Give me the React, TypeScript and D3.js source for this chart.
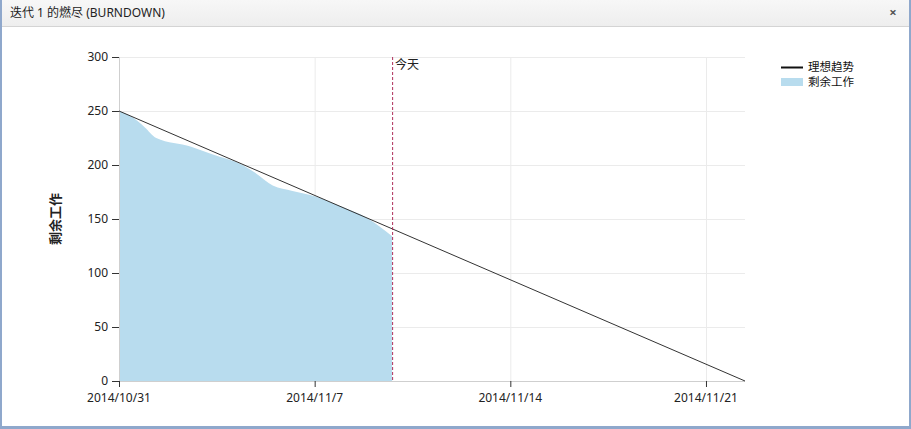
import React from "react";
import * as d3 from "d3";

const W = 911;
const H = 429;

const title = "迭代 1 的燃尽 (BURNDOWN)";
const yLabel = "剩余工作";
const legendLabels = ["理想趋势", "剩余工作"];
const todayLabel = "今天";

const startDate = "2014-10-31T00:00";
const endDate = "2014-11-22T09:30";
const todayDate = "2014-11-09T18:30";
const idealValues = [250, 0];

const remainingDates = [
  "2014-10-31T00:00",
  "2014-10-31T12:00",
  "2014-10-31T22:00",
  "2014-11-01T08:00",
  "2014-11-02T14:00",
  "2014-11-03T08:00",
  "2014-11-04T10:00",
  "2014-11-04T22:00",
  "2014-11-05T12:00",
  "2014-11-06T05:00",
  "2014-11-07T00:00",
  "2014-11-08T00:00",
  "2014-11-08T21:00",
  "2014-11-09T18:30",
];
const remainingValues = [250, 244, 235, 225, 217, 210, 200, 192, 181, 176, 171, 161, 151, 134];

const xTickDates = ["2014-10-31T00:00", "2014-11-07T00:00", "2014-11-14T00:00", "2014-11-21T00:00"];
const yTicks = [0, 50, 100, 150, 200, 250, 300];

const parse = d3.timeParse("%Y-%m-%dT%H:%M");
const fmt = d3.timeFormat("%Y/%-m/%-d");
const FONT = "'Noto Sans', 'Noto Sans CJK SC', sans-serif";

export default function App() {
  const left = 119, right = 745, top = 57, bottom = 381;
  const x = d3.scaleTime().domain([parse(startDate)!, parse(endDate)!]).range([left, right]);
  const y = d3.scaleLinear().domain([0, 300]).range([bottom, top]);

  const remaining = remainingDates.map((d, i) => ({ t: parse(d)!, v: remainingValues[i] }));
  const area = d3
    .area<{ t: Date; v: number }>()
    .x((d) => x(d.t))
    .y0(y(0))
    .y1((d) => y(d.v))
    .curve(d3.curveMonotoneX);
  const ideal = [
    { t: parse(startDate)!, v: idealValues[0] },
    { t: parse(endDate)!, v: idealValues[1] },
  ];
  const line = d3
    .line<{ t: Date; v: number }>()
    .x((d) => x(d.t))
    .y((d) => y(d.v));
  const xTicks = xTickDates.map((d) => parse(d)!);
  const tx = x(parse(todayDate)!);

  return (
    <svg width={W} height={H} style={{ position: "absolute", left: 0, top: 0, fontFamily: FONT }}>
      <defs>
        <linearGradient id="tb" x1="0" y1="0" x2="0" y2="1">
          <stop offset="0" stopColor="#f7f7f7" />
          <stop offset="1" stopColor="#eeeeee" />
        </linearGradient>
      </defs>
      {/* window frame */}
      <rect x={0} y={0} width={W} height={H} fill="#ffffff" />
      <rect x={0} y={0} width={W} height={26} fill="url(#tb)" />
      <line x1={0} x2={W} y1={26.5} y2={26.5} stroke="#d4d4d4" />
      <rect x={0} y={0} width={2} height={H} fill="#8fa8cc" />
      <rect x={W - 2} y={0} width={2} height={H} fill="#8fa8cc" />
      <rect x={0} y={H - 3} width={W} height={3} fill="#8fa8cc" />
      <text x={10} y={17} fontSize={12} fill="#222">{title}</text>
      <text x={893} y={17} fontSize={13} fill="#555" textAnchor="middle" fontWeight="bold">×</text>

      {/* grid */}
      {yTicks.map((t) => (
        <line key={"gy" + t} x1={left} x2={right} y1={y(t) + 0.5} y2={y(t) + 0.5} stroke="#ebebeb" />
      ))}
      {xTicks.slice(1).map((t, i) => (
        <line key={"gx" + i} x1={x(t) + 0.5} x2={x(t) + 0.5} y1={top} y2={bottom} stroke="#ebebeb" />
      ))}

      {/* remaining work */}
      <path d={area(remaining)!} fill="#b8dcee" />

      {/* axes */}
      <line x1={left + 0.5} x2={left + 0.5} y1={top} y2={bottom} stroke="#cfcfcf" />
      <line x1={left} x2={right} y1={bottom + 0.5} y2={bottom + 0.5} stroke="#cfcfcf" />
      {yTicks.map((t) => (
        <g key={"yt" + t}>
          <line x1={left - 7} x2={left} y1={y(t) + 0.5} y2={y(t) + 0.5} stroke="#333" />
          <text x={left - 11} y={y(t)} dy="0.35em" fontSize={12} textAnchor="end" fill="#222">{t}</text>
        </g>
      ))}
      {xTicks.map((t, i) => (
        <g key={"xt" + i}>
          <line x1={x(t) + 0.5} x2={x(t) + 0.5} y1={bottom} y2={bottom + 6} stroke="#333" />
          <text x={x(t)} y={bottom + 21} fontSize={12} textAnchor="middle" fill="#222">{fmt(t)}</text>
        </g>
      ))}
      <text
        transform={`translate(55,${(top + bottom) / 2}) rotate(-90)`}
        fontSize={13}
        fontWeight="bold"
        textAnchor="middle"
        dy="0.35em"
        fill="#222"
      >
        {yLabel}
      </text>

      {/* ideal trend */}
      <path d={line(ideal)!} fill="none" stroke="#333" strokeWidth={1} />

      {/* today */}
      <line x1={tx + 0.5} x2={tx + 0.5} y1={top} y2={bottom} stroke="#b0305a" strokeDasharray="3,2" />
      <text x={tx + 3} y={top + 12} fontSize={12} fill="#222">{todayLabel}</text>

      {/* legend */}
      <line x1={781} x2={803} y1={67.5} y2={67.5} stroke="#111" strokeWidth={2} />
      <text x={808} y={67} dy="0.35em" fontSize={11.5} fill="#111">{legendLabels[0]}</text>
      <rect x={781} y={78} width={22} height={8} fill="#b8dcee" />
      <text x={808} y={82} dy="0.35em" fontSize={11.5} fill="#111">{legendLabels[1]}</text>
    </svg>
  );
}
